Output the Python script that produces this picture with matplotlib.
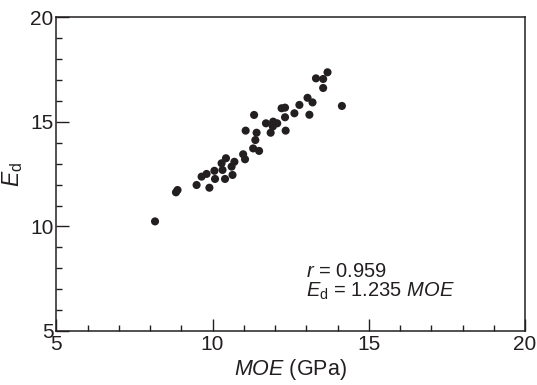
import numpy as np
import matplotlib
matplotlib.use("Agg")
import matplotlib.pyplot as plt
from matplotlib.ticker import MultipleLocator

plt.rcParams['font.family'] = ['Liberation Sans', 'DejaVu Sans']
plt.rcParams['mathtext.fontset'] = 'custom'
plt.rcParams['mathtext.rm'] = 'Liberation Sans'
plt.rcParams['mathtext.it'] = 'Liberation Sans:italic'

# MOE (GPa) vs dynamic modulus Ed
moe = [8.16, 8.83, 8.88, 9.49, 9.90, 9.65, 9.81, 10.08, 10.06, 10.40,
       10.32, 10.29, 10.43, 10.61, 10.64, 10.70, 10.98, 11.04, 11.06, 11.33,
       11.41, 11.37, 11.30, 11.49, 11.71, 11.86, 11.94, 12.07, 11.93, 12.32,
       12.34, 12.21, 12.32, 12.62, 12.78, 13.04, 13.20, 13.10, 13.31, 13.54,
       13.68, 13.54, 14.14]
ed = [10.24, 11.63, 11.74, 11.98, 11.85, 12.38, 12.51, 12.27, 12.66, 12.27,
      12.70, 13.02, 13.26, 12.86, 12.46, 13.09, 13.45, 13.21, 14.58, 15.33,
      14.48, 14.13, 13.73, 13.61, 14.93, 14.48, 15.01, 14.93, 14.78, 15.22,
      14.58, 15.65, 15.68, 15.41, 15.81, 16.15, 15.93, 15.34, 17.08, 17.05,
      17.37, 16.62, 15.76]

ink = '#231f20'

fig = plt.figure(figsize=(5.37, 3.85), dpi=100)
ax = fig.add_axes([0.1048, 0.1403, 0.8729, 0.8148])

ax.scatter(moe, ed, s=34, color=ink, edgecolors='none', zorder=3)

ax.set_xlim(5, 20)
ax.set_ylim(5, 20)
ax.xaxis.set_major_locator(MultipleLocator(5))
ax.xaxis.set_minor_locator(MultipleLocator(1))
ax.yaxis.set_major_locator(MultipleLocator(5))
ax.yaxis.set_minor_locator(MultipleLocator(1))
ax.tick_params(which='both', direction='in', top=False, right=False,
               color=ink, labelcolor=ink, width=1.0, labelsize=15)
ax.tick_params(which='major', length=9)
ax.tick_params(axis='x', which='major', pad=3)
ax.tick_params(axis='y', which='major', pad=2)
ax.tick_params(which='minor', length=4.5)
for s in ax.spines.values():
    s.set_color(ink)
    s.set_linewidth(1.1)

ax.set_xlabel(r'$MOE$ (GPa)', fontsize=15.5, color=ink, labelpad=2)
ax.set_ylabel(r'$E_{\mathrm{d}}$', fontsize=16.5, color=ink, labelpad=4)

ax.text(13.0, 7.59, r'$r$ = 0.959', fontsize=14.5, color=ink)
ax.text(13.0, 6.64, r'$E_{\mathrm{d}}$ = 1.235 $MOE$', fontsize=14.5, color=ink)

fig.savefig('out.png', dpi=100)
